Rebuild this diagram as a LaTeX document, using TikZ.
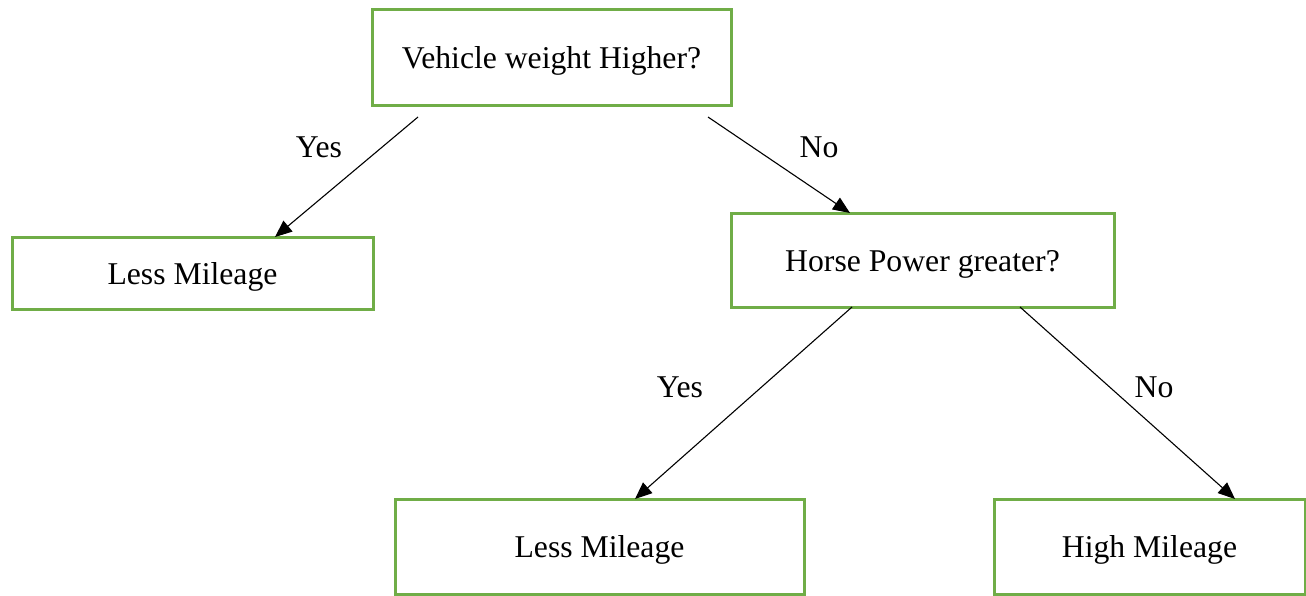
\documentclass[tikz,border=0pt]{standalone}
\usepackage{fontspec}
\setmainfont{Liberation Serif}
\usetikzlibrary{arrows.meta}
\definecolor{boxgreen}{RGB}{112,173,71}
\begin{document}
\begin{tikzpicture}
            [x=1pt, y=-1pt,
             font=\fontsize{31.7}{38}\selectfont,
             box/.style = {draw=boxgreen, line width=3pt, outer sep=0pt, inner sep=0pt,
                           text height=26pt, text depth=4pt},
             arr/.style = {-{Triangle[length=17pt,width=14pt]}, line width=1.1pt},
             lbl/.style = {anchor=base, inner sep=0pt}]
            \useasboundingbox (0,0) rectangle (1306,595);
            \node[box, minimum width=359pt, minimum height=96pt] (root) at (551.5,57) {Vehicle weight Higher?};
            \node[box, minimum width=361pt, minimum height=72pt] (left) at (192.5,273) {Less Mileage};
            \node[box, minimum width=383pt, minimum height=94pt] (hp) at (922.5,260) {Horse Power greater?};
            \node[box, minimum width=409pt, minimum height=95pt] (lessm) at (599.5,546.5) {Less Mileage};
            \node[box, minimum width=311pt, minimum height=95pt] (highm) at (1149.5,546.5) {High Mileage};
            \node[lbl] (yes1) at (319,157) {Yes};
            \node[lbl] (no1) at (819,157) {No};
            \node[lbl] (yes2) at (680,397) {Yes};
            \node[lbl] (no2) at (1154,397) {No};
            \draw[arr] ([xshift=-133.5pt,yshift=-12pt]root.south) -- ([xshift=82.5pt]left.north);
            \draw[arr] ([xshift=156.5pt,yshift=-12pt]root.south) -- ([xshift=-72.5pt]hp.north);
            \draw[arr] ([xshift=-70.5pt]hp.south) -- ([xshift=35.5pt]lessm.north);
            \draw[arr] ([xshift=97.5pt]hp.south) -- ([xshift=85.5pt]highm.north);
        \end{tikzpicture}
\end{document}
